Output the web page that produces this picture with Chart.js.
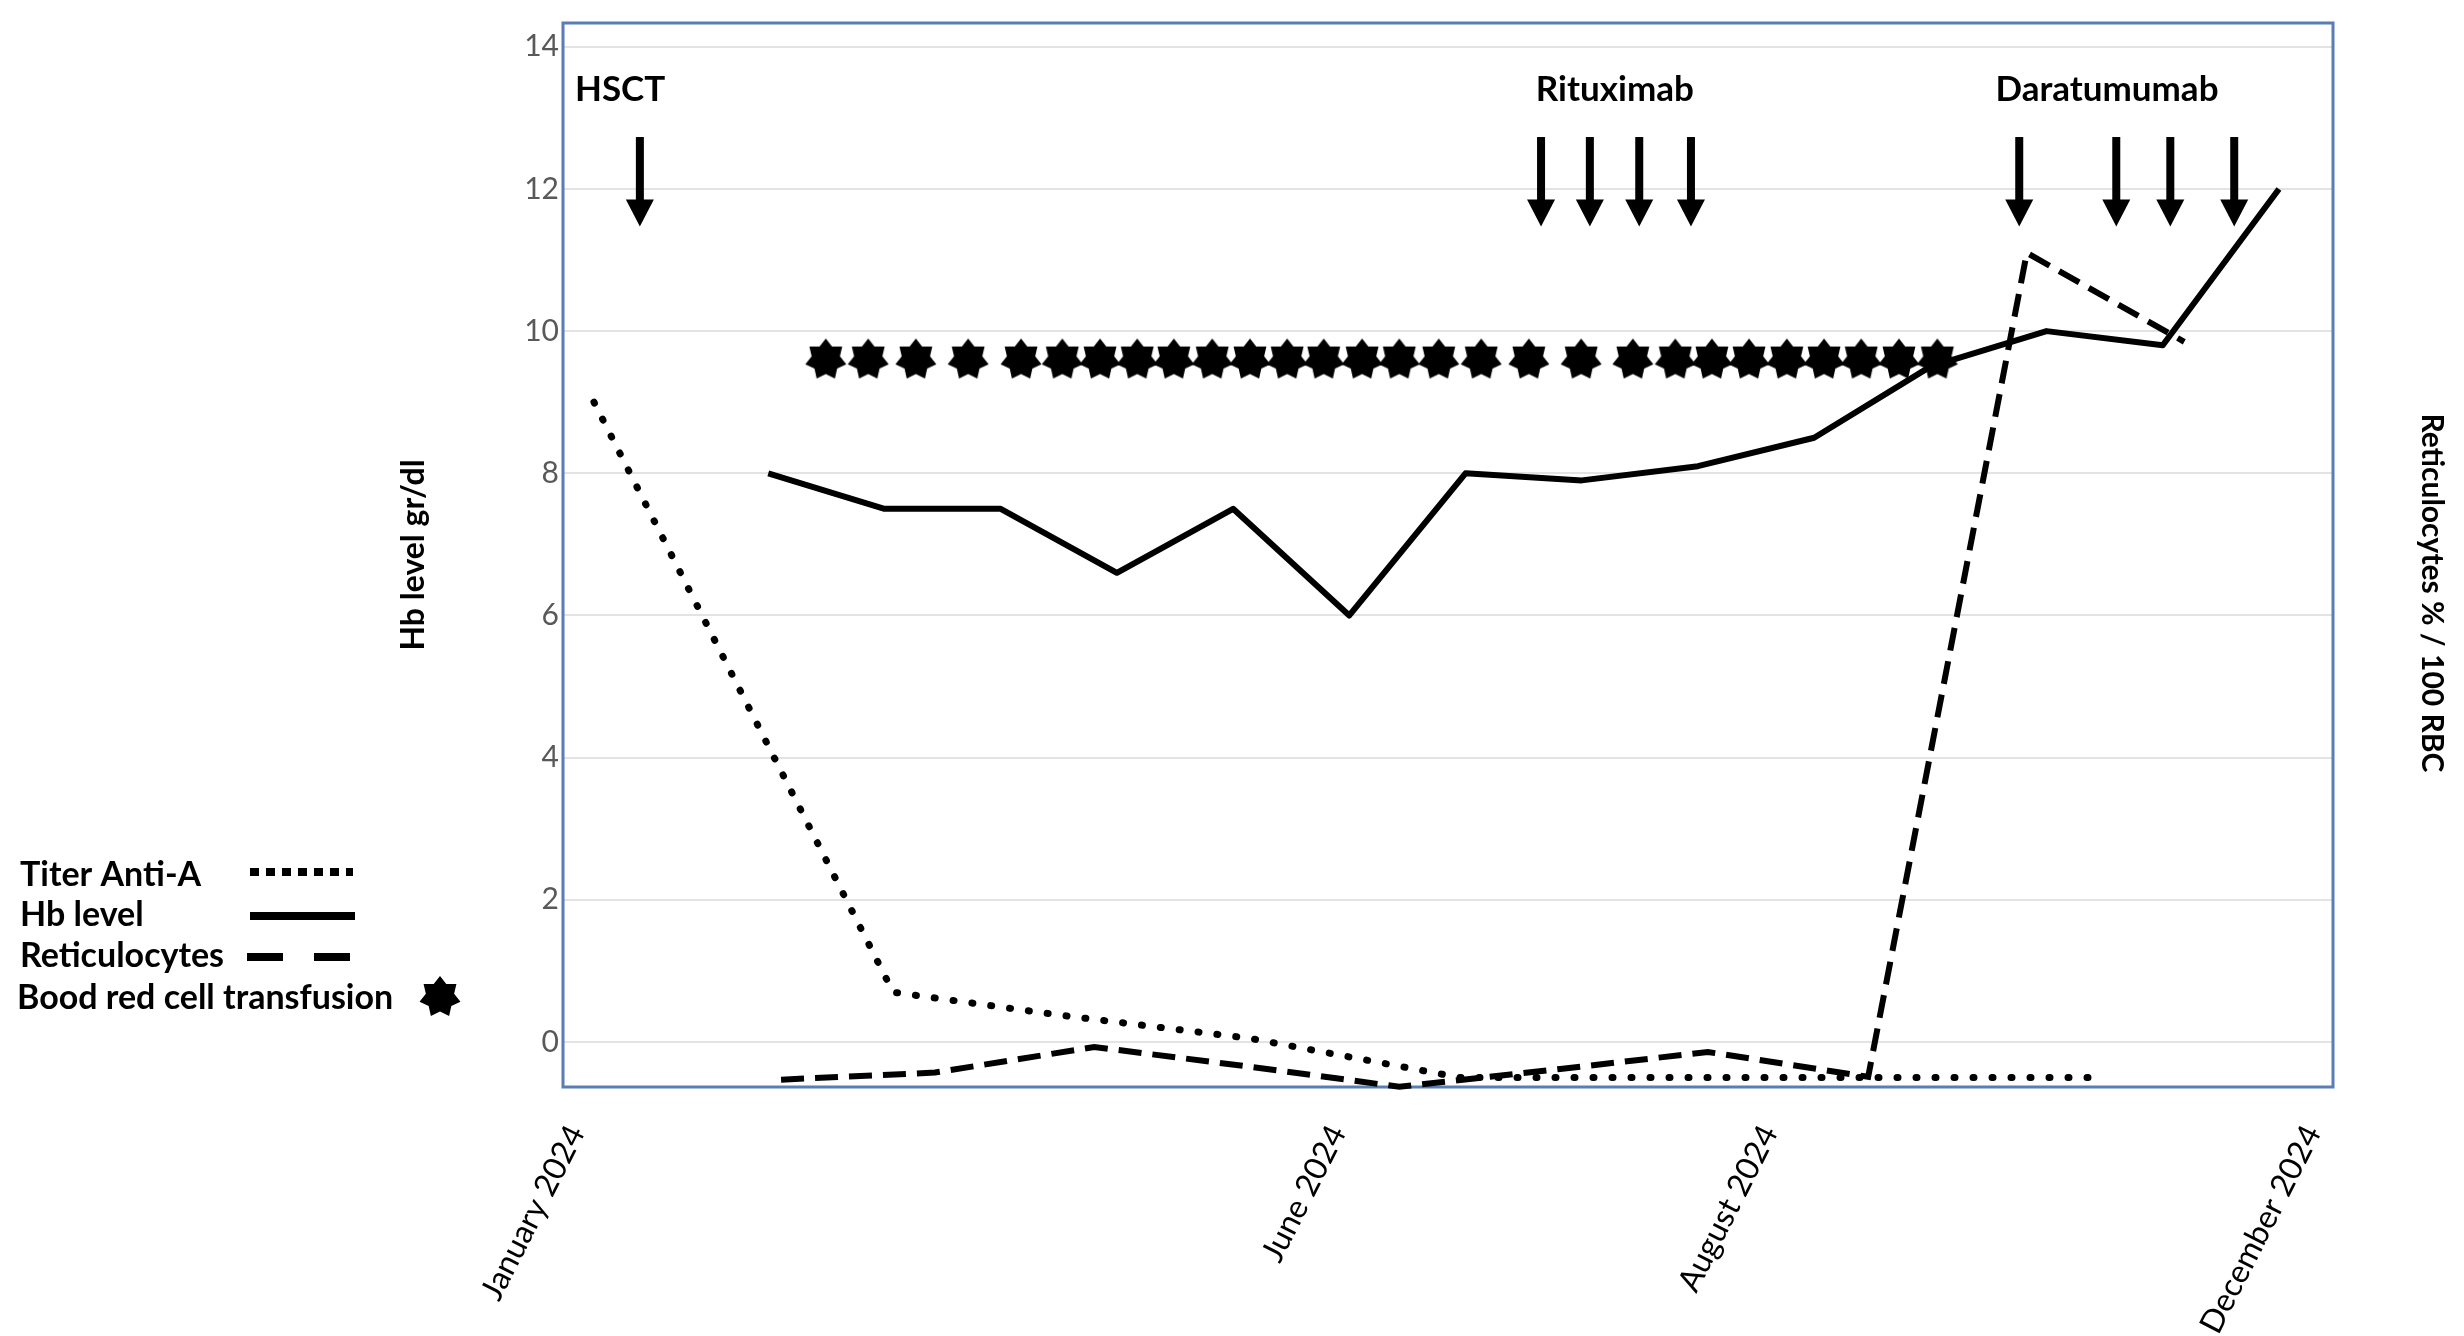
<!DOCTYPE html>
<html><head><meta charset="utf-8">
<script src="https://cdn.jsdelivr.net/npm/chart.js@4.4.1/dist/chart.umd.min.js"></script>
<style>html,body{margin:0;padding:0;background:#fff;} canvas{display:block;}</style>
</head><body>
<canvas id="c" width="2464" height="1336" style="width:2464px;height:1336px"></canvas>
<script>
// ---------------- data (x = sampling index along the time axis) ----------------
const xTickPositions = [-0.30, 12.80, 20.23, 29.58];
const xTickLabels = ['January 2024', 'June 2024', 'August 2024', 'December 2024'];
const yTicks = [0, 2, 4, 6, 8, 10, 12, 14];

const hbX = [3, 5, 7, 9, 11, 13, 15, 17, 19, 21, 23, 25, 27, 29];
const hbLevel = [8.0, 7.5, 7.5, 6.6, 7.5, 6.0, 8.0, 7.9, 8.1, 8.5, 9.5, 10.0, 9.8, 12.0];

const titerX = [0, 5.15, 8.0, 11.3, 14.9, 26.0];
const titerAntiA = [9.0, 0.7, 0.38, 0.05, -0.5, -0.5];

const reticX = [3.22, 5.87, 8.61, 11.31, 13.86, 16.63, 19.17, 21.93, 24.66, 27.37];
const reticulocytes = [-0.53, -0.43, -0.07, -0.35, -0.63, -0.38, -0.14, -0.49, 11.1, 9.85];

const transfusionX = [3.99, 4.72, 5.54, 6.44, 7.35, 8.06, 8.71, 9.35, 9.98, 10.64, 11.29, 11.93, 12.56, 13.22,
                      13.86, 14.54, 15.27, 16.09, 16.99, 17.88, 18.61, 19.24, 19.88, 20.53, 21.17, 21.81, 22.46, 23.12];
const transfusionMarkerLevel = 9.6;

const treatmentNames = ['HSCT', 'Rituximab', 'Daratumumab'];
const treatmentLabelX = [0.45, 17.57, 26.04];
const treatmentDoseX = [[0.79], [16.3, 17.14, 17.99, 18.88], [24.53, 26.2, 27.13, 28.23]];

const legendLabels = ['Titer Anti-A', 'Hb level', 'Reticulocytes', 'Bood red cell transfusion'];
const leftAxisTitle = 'Hb level gr/dl';
const rightAxisTitle = 'Reticulocytes % / 100 RBC';

// ---------------- styling ----------------
const FONT = 'Lato';
function makeStar(r, ri) {
  const s = Math.ceil(2 * r + 2);
  const c = document.createElement('canvas');
  c.width = s; c.height = s;
  const g = c.getContext('2d');
  g.translate(s / 2, s / 2);
  g.beginPath();
  for (let i = 0; i < 14; i++) {
    const a = -Math.PI / 2 + i * Math.PI / 7;
    const rr = (i % 2) ? ri : r;
    g.lineTo(rr * Math.cos(a), rr * Math.sin(a));
  }
  g.closePath();
  g.fillStyle = '#000';
  g.fill();
  return c;
}
const starImg = makeStar(21, 14.5);

const framePlugin = {
  id: 'frame',
  beforeDatasetsDraw(chart) {
    const { ctx, chartArea: a } = chart;
    ctx.save();
    ctx.strokeStyle = '#5B7DB5';
    ctx.lineWidth = 3;
    ctx.strokeRect(a.left, a.top, a.right - a.left, a.bottom - a.top);
    ctx.restore();
  },
  afterDraw(chart) {
    const { ctx } = chart;
    ctx.save();
    ctx.fillStyle = '#000';
    ctx.font = 'bold 30px ' + FONT;
    ctx.textAlign = 'center';
    ctx.textBaseline = 'middle';
    ctx.translate(2432, 593);
    ctx.rotate(Math.PI / 2);
    ctx.fillText(rightAxisTitle, 0, 0);
    ctx.restore();
  }
};

const treatmentPlugin = {
  id: 'treatments',
  afterDatasetsDraw(chart) {
    const { ctx, scales } = chart;
    const xs = scales.x, ys = scales.y;
    const labelY = ys.getPixelForValue(13.4);
    const top = ys.getPixelForValue(12.73);
    const tip = ys.getPixelForValue(11.47);
    const headLen = 27, headW = 28, shaftW = 8;
    ctx.save();
    ctx.fillStyle = '#000';
    ctx.font = 'bold 35px ' + FONT;
    ctx.textAlign = 'center';
    ctx.textBaseline = 'middle';
    treatmentNames.forEach((name, i) => {
      ctx.fillText(name, xs.getPixelForValue(treatmentLabelX[i]), labelY);
      treatmentDoseX[i].forEach(dx => {
        const px = xs.getPixelForValue(dx);
        ctx.fillRect(px - shaftW / 2, top, shaftW, tip - headLen - top + 1);
        ctx.beginPath();
        ctx.moveTo(px - headW / 2, tip - headLen);
        ctx.lineTo(px + headW / 2, tip - headLen);
        ctx.lineTo(px, tip);
        ctx.closePath();
        ctx.fill();
      });
    });
    ctx.restore();
  }
};

const legendPlugin = {
  id: 'customLegend',
  afterDraw(chart) {
    const { ctx } = chart;
    ctx.save();
    ctx.fillStyle = '#000';
    ctx.strokeStyle = '#000';
    ctx.font = 'bold 34px ' + FONT;
    ctx.textAlign = 'left';
    ctx.textBaseline = 'middle';
    const rows = [875, 915, 956, 998];
    legendLabels.forEach((t, i) => ctx.fillText(t, i === 3 ? 17 : 20, rows[i]));
    // titer sample (dots)
    ctx.lineWidth = 8;
    ctx.setLineDash([9, 7]);
    ctx.beginPath(); ctx.moveTo(250, 872); ctx.lineTo(353, 872); ctx.stroke();
    // hb sample
    ctx.setLineDash([]);
    ctx.beginPath(); ctx.moveTo(250, 916); ctx.lineTo(355, 916); ctx.stroke();
    // reticulocytes sample
    ctx.setLineDash([36, 31]);
    ctx.beginPath(); ctx.moveTo(247, 957); ctx.lineTo(350, 957); ctx.stroke();
    ctx.setLineDash([]);
    // star
    ctx.drawImage(starImg, 440 - starImg.width / 2, 997 - starImg.height / 2);
    ctx.restore();
  }
};

const pts = (xs, ys) => xs.map((x, i) => ({ x, y: ys[i] }));

new Chart(document.getElementById('c'), {
  type: 'line',
  data: {
    datasets: [
      { label: 'Hb level', data: pts(hbX, hbLevel), borderColor: '#000', borderWidth: 6,
        pointRadius: 0, tension: 0, borderJoinStyle: 'round', yAxisID: 'y', clip: false, order: 1 },
      { label: 'Titer Anti-A', data: pts(titerX, titerAntiA), borderColor: '#000', borderWidth: 7,
        borderDash: [1, 18], borderCapStyle: 'round', pointRadius: 0, tension: 0, yAxisID: 'y', clip: false, order: 3 },
      { label: 'Reticulocytes', data: pts(reticX, reticulocytes), borderColor: '#000', borderWidth: 6,
        borderDash: [23, 11], pointRadius: 0, tension: 0, yAxisID: 'y2', clip: false, order: 4 },
      { label: 'Bood red cell transfusion', data: transfusionX.map(x => ({ x, y: transfusionMarkerLevel })),
        showLine: false, pointStyle: starImg, pointRadius: 21, yAxisID: 'y', clip: false, order: 2 }
    ]
  },
  options: {
    responsive: false, animation: false, devicePixelRatio: 1,
    layout: { padding: { left: 380, top: 23, right: 0, bottom: 0 } },
    plugins: { legend: { display: false }, tooltip: { enabled: false } },
    scales: {
      x: {
        type: 'linear', min: -0.533, max: 29.93,
        grid: { display: false }, border: { display: false },
        afterBuildTicks: s => { s.ticks = xTickPositions.map(v => ({ value: v })); },
        afterFit: s => { s.height = 249; },
        ticks: { autoSkip: false, minRotation: 63, maxRotation: 63, padding: 24, color: '#000',
                 font: { family: FONT, size: 32 }, callback: (v, i) => xTickLabels[i] }
      },
      y: {
        position: 'left', min: -0.633, max: 14.334,
        afterBuildTicks: s => { s.ticks = yTicks.map(v => ({ value: v })); },
        afterFit: s => { s.width = 183; },
        grid: { color: '#e3e3e3', lineWidth: 2, drawTicks: false }, border: { display: false },
        ticks: { padding: 4, color: '#595959', font: { family: FONT, size: 30 } },
        title: { display: true, text: leftAxisTitle, color: '#000',
                 font: { family: FONT, size: 32, weight: 'bold' }, padding: { top: 14, bottom: 0 } }
      },
      y2: {
        position: 'right', min: -0.633, max: 14.334,
        afterFit: s => { s.width = 131; },
        grid: { display: false }, border: { display: false }, ticks: { display: false },
        title: { display: false }
      }
    }
  },
  plugins: [framePlugin, treatmentPlugin, legendPlugin]
});
</script>
</body></html>
